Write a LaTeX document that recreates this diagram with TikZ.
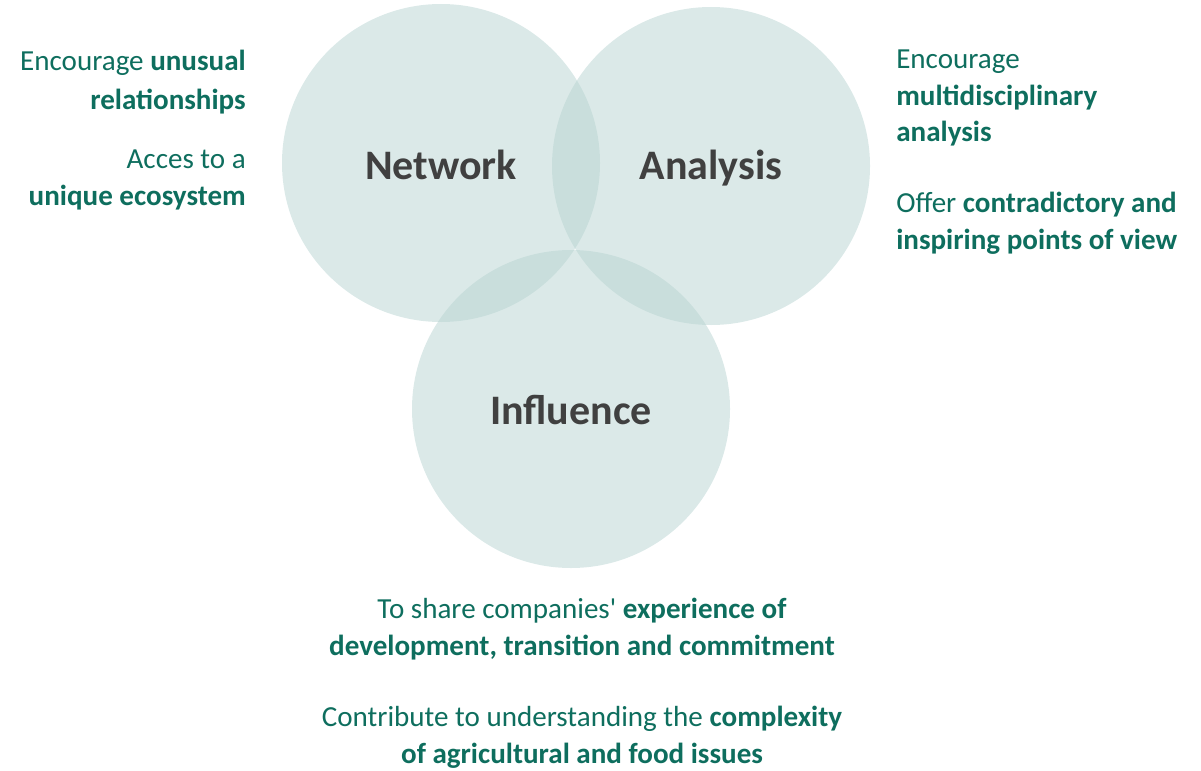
\documentclass[tikz,border=0pt]{standalone}
\usepackage{fontspec}
\setmainfont{Carlito}[Ligatures=TeXOff]
\definecolor{teal}{RGB}{14,110,94}
\definecolor{circfill}{RGB}{183,211,209}
\definecolor{headgray}{RGB}{64,64,64}

\begin{document}
\begin{tikzpicture}[
    x=0.75pt, y=-0.75pt,
    circ/.style={circle, fill=circfill, fill opacity=0.5, minimum size=318*0.75pt, inner sep=0pt},
    head/.style={text=headgray, font=\fontsize{31.5}{36}\bfseries\selectfont, inner sep=0pt},
    txt/.style={text=teal, font=\fontsize{21.8}{27.5}\selectfont, inner sep=0pt}
]
    \useasboundingbox (0,0) rectangle (1201,770);

    % circles
    \node[circ] (network) at (441,163) {};
    \node[circ] (analysis) at (711,166) {};
    \node[circ] (influence) at (571,409) {};

    \node[head] (networklbl) at (441,165) {Network};
    \node[head] (analysislbl) at (711,168) {Analysis};
    \node[head] (influencelbl) at (571,410) {Influence};

    % left
    \node[txt, font=\fontsize{21.8}{29.5}\selectfont, align=right, anchor=east] (unusual) at (246,82) {Encourage \textbf{unusual}\\\textbf{relationships}};
    \node[txt, align=right, anchor=east] (ecosystem) at (246,180) {Acces to a\\\textbf{unique ecosystem}};

    % right
    \node[txt, align=left, anchor=west] (multi) at (896,98) {Encourage\\\textbf{multidisciplinary}\\\textbf{analysis}};
    \node[txt, align=left, anchor=west] (offer) at (896,223) {Offer \textbf{contradictory and}\\\textbf{inspiring points of view}};

    % bottom
    \node[txt, align=center] (share) at (582,629) {To share companies' \textbf{experience of}\\\textbf{development, transition and commitment}};
    \node[txt, align=center] (complexity) at (582,737) {Contribute to understanding the \textbf{complexity}\\\textbf{of agricultural and food issues}};
\end{tikzpicture}
\end{document}
